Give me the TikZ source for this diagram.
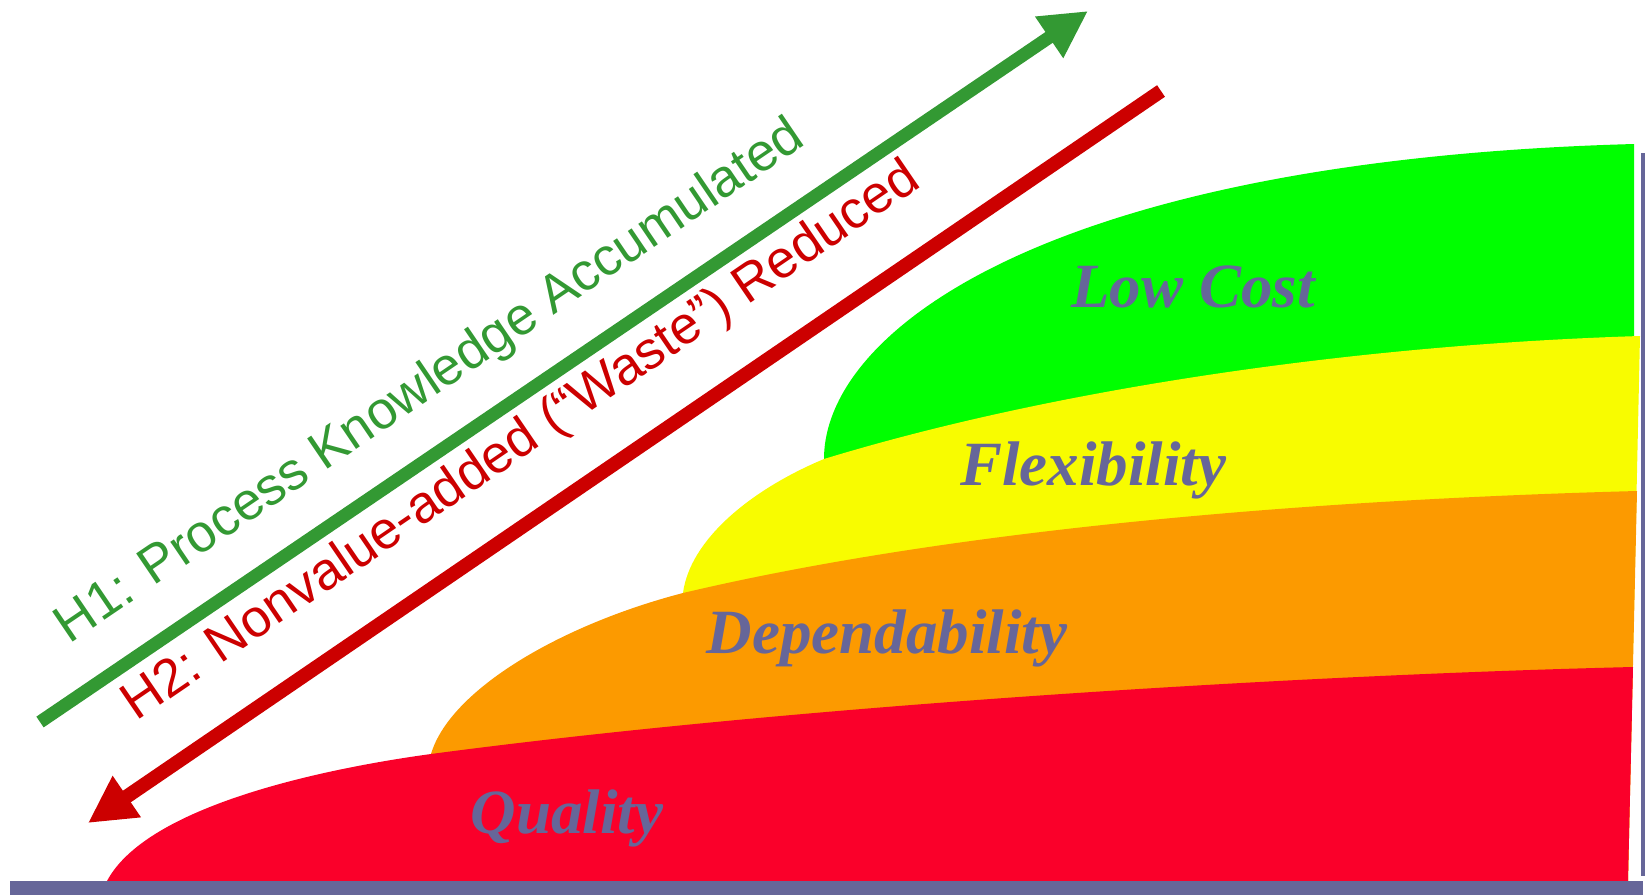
\documentclass[tikz,border=0pt]{standalone}
\usepackage{fontspec}
\setmainfont{Liberation Serif}
\setsansfont{Liberation Sans}
\usepackage{xcolor}
\usetikzlibrary{arrows.meta}
\definecolor{lowgreen}{RGB}{0,255,0}
\definecolor{flexyellow}{RGB}{248,252,0}
\definecolor{deporange}{RGB}{252,154,0}
\definecolor{qualred}{RGB}{250,0,42}
\definecolor{slate}{RGB}{102,102,153}
\definecolor{hgreen}{RGB}{51,153,51}
\definecolor{hred}{RGB}{204,0,0}

\begin{document}
\begin{tikzpicture}[x=0.5pt, y=-0.5pt,
  tag/.style={font=\fontsize{31.5}{36}\selectfont\bfseries\itshape, text=slate, inner sep=0pt, anchor=base},
  hyp/.style={font=\sffamily\fontsize{26.5}{30}\selectfont, inner sep=0pt, anchor=base},
  hyparrow/.style={line width=6.5pt, line cap=butt}]
  \useasboundingbox (0,0) rectangle (1646,895);
  % bands, top one first
  \fill[lowgreen] (824,470) -- (824,459) .. controls (824,330) and (1050,160) .. (1634,144) -- (1634,470) -- cycle;
  \fill[flexyellow] (683,593) .. controls (690,540) and (750,490) .. (824,459)
    .. controls (1050,390) and (1350,345) .. (1640,336) -- (1628,881) -- (683,881) -- cycle;
  \fill[deporange] (431,754) .. controls (450,690) and (560,625) .. (683,593)
    .. controls (950,530) and (1300,500) .. (1637,491) -- (1628,881) -- (431,881) -- cycle;
  \fill[qualred] (107,881) .. controls (150,800) and (350,765) .. (431,754)
    .. controls (800,705) and (1300,675) .. (1633,667) -- (1628,881) -- cycle;
  % axes
  \fill[slate] (10,881) rectangle (1643,895);
  \fill[slate] (1641,153) rectangle (1645,876);
  % band labels
  \node[tag] (lowcost) at (1193,307) {Low Cost};
  \node[tag] (flex) at (1093,485) {Flexibility};
  \node[tag] (dep) at (887,653) {Dependability};
  \node[tag] (qual) at (567,833) {Quality};
  % hypotheses
  \coordinate (g0) at (40,722);
  \coordinate (g1) at (1088,11);
  \draw[hyparrow, hgreen, -{Triangle[length=23.5pt, width=23.5pt]}] (g0) -- (g1);
  \node[hyp, rotate=34.16, text=hgreen] (h1) at (438.3,393.9) {H1: Process Knowledge Accumulated};
  \coordinate (r0) at (88,823);
  \coordinate (r1) at (1161,91);
  \draw[hyparrow, line width=7pt, hred, {Triangle[length=23.5pt, width=23.5pt]}-] (r0) -- (r1);
  \node[hyp, rotate=34.30, text=hred] (h2) at (529.6,453.5) {H2: Nonvalue-added (“Waste”) Reduced};
\end{tikzpicture}
\end{document}
